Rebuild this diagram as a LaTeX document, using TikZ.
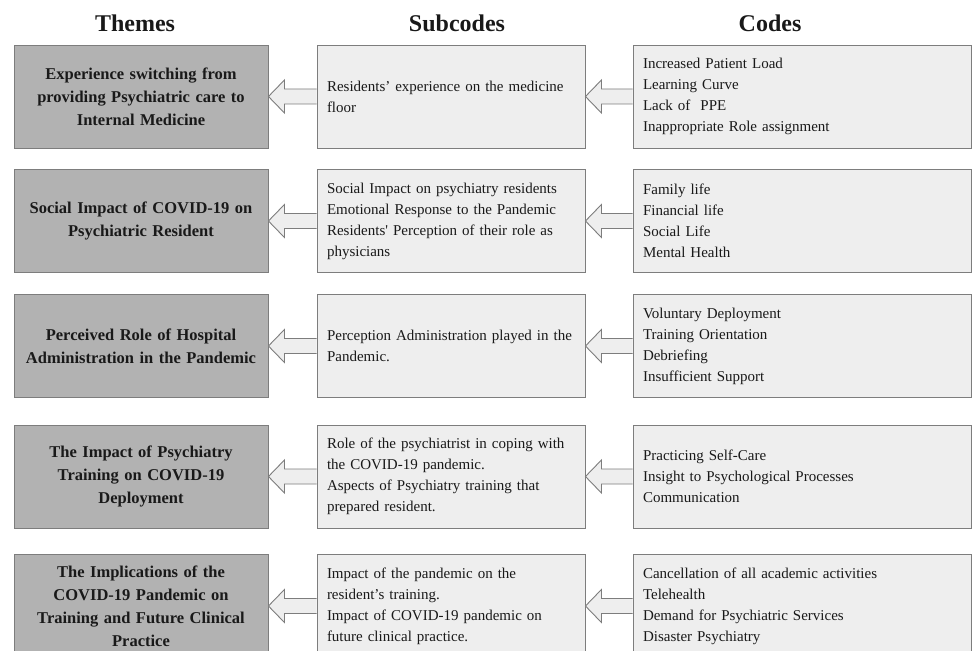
\documentclass[tikz,border=0pt]{standalone}
\usepackage{fontspec}
\setmainfont{Liberation Serif}[Ligatures=TeXOff]
\usetikzlibrary{calc}
\definecolor{themefill}{RGB}{178,178,178}
\definecolor{boxfill}{RGB}{238,238,238}
\definecolor{edgegray}{RGB}{125,125,125}
\definecolor{txt}{RGB}{25,25,25}
\tikzset{
  basebox/.style={draw=edgegray, line width=0.9bp, minimum height=103bp, text=txt},
  themebox/.style={basebox, fill=themefill, minimum width=254bp, text width=240bp, align=center,
    font=\bfseries\fontsize{16.5bp}{23bp}\selectfont},
  subbox/.style={basebox, fill=boxfill, minimum width=268bp, text width=248bp, inner xsep=10bp, align=left,
    font=\fontsize{15bp}{21bp}\selectfont},
  codebox/.style={basebox, fill=boxfill, minimum width=338bp, text width=318bp, inner xsep=10bp, align=left,
    font=\fontsize{15bp}{21bp}\selectfont},
  header/.style={anchor=base, font=\bfseries\fontsize{24bp}{28bp}\selectfont, text=txt, inner sep=0pt},
  blockarrow/.style={draw=edgegray, fill=boxfill, line width=0.9bp, line join=miter},
}
\newcommand{\blockarr}[2]{%
  \filldraw[blockarrow] ($(#2.west)+(0,-7.5)$) -- ($(#1.east)+(16,-7.5)$) -- ($(#1.east)+(16,-16.5)$)
    -- (#1.east) -- ($(#1.east)+(16,16.5)$) -- ($(#1.east)+(16,7.5)$) -- ($(#2.west)+(0,7.5)$);}
\begin{document}
\begin{tikzpicture}[x=1bp,y=-1bp]
\useasboundingbox (0,0) rectangle (972,651);
\clip (0,0) rectangle (972,651);
\fill[white] (0,0) rectangle (972,651);

\node[header] (hT) at (135,32) {Themes};
\node[header] (hS) at (457,32) {Subcodes};
\node[header] (hC) at (770,32) {Codes};

% Row 1
\node[themebox] (t1) at (141,96.5) {Experience switching from\\providing Psychiatric care to\\Internal Medicine};
\node[subbox] (s1) at (451,96.5) {Residents’ experience on the medicine\\floor};
\node[codebox] (c1) at (802,96.5) {Increased Patient Load\\Learning Curve\\Lack of\ \ PPE\\Inappropriate Role assignment};
% Row 2
\node[themebox] (t2) at (141,221) {Social Impact of COVID-19 on\\Psychiatric Resident};
\node[subbox] (s2) at (451,221) {Social Impact on psychiatry residents\\Emotional Response to the Pandemic\\Residents' Perception of their role as\\physicians};
\node[codebox] (c2) at (802,221) {Family life\\Financial life\\Social Life\\Mental Health};
% Row 3
\node[themebox] (t3) at (141,346) {Perceived Role of Hospital\\Administration in the Pandemic};
\node[subbox] (s3) at (451,346) {Perception Administration played in the\\Pandemic.};
\node[codebox] (c3) at (802,346) {Voluntary Deployment\\Training Orientation\\Debriefing\\Insufficient Support};
% Row 4
\node[themebox] (t4) at (141,476.5) {The Impact of Psychiatry\\Training on COVID-19\\Deployment};
\node[subbox] (s4) at (451,476.5) {Role of the psychiatrist in coping with\\the COVID-19 pandemic.\\Aspects of Psychiatry training that\\prepared resident.};
\node[codebox] (c4) at (802,476.5) {Practicing Self-Care\\Insight to Psychological Processes\\Communication};
% Row 5
\node[themebox] (t5) at (141,606) {The Implications of the\\COVID-19 Pandemic on\\Training and Future Clinical\\Practice};
\node[subbox] (s5) at (451,606) {Impact of the pandemic on the\\resident’s training.\\Impact of COVID-19 pandemic on\\future clinical practice.};
\node[codebox] (c5) at (802,606) {Cancellation of all academic activities\\Telehealth\\Demand for Psychiatric Services\\Disaster Psychiatry};

\blockarr{t1}{s1}\blockarr{s1}{c1}
\blockarr{t2}{s2}\blockarr{s2}{c2}
\blockarr{t3}{s3}\blockarr{s3}{c3}
\blockarr{t4}{s4}\blockarr{s4}{c4}
\blockarr{t5}{s5}\blockarr{s5}{c5}
\end{tikzpicture}
\end{document}
